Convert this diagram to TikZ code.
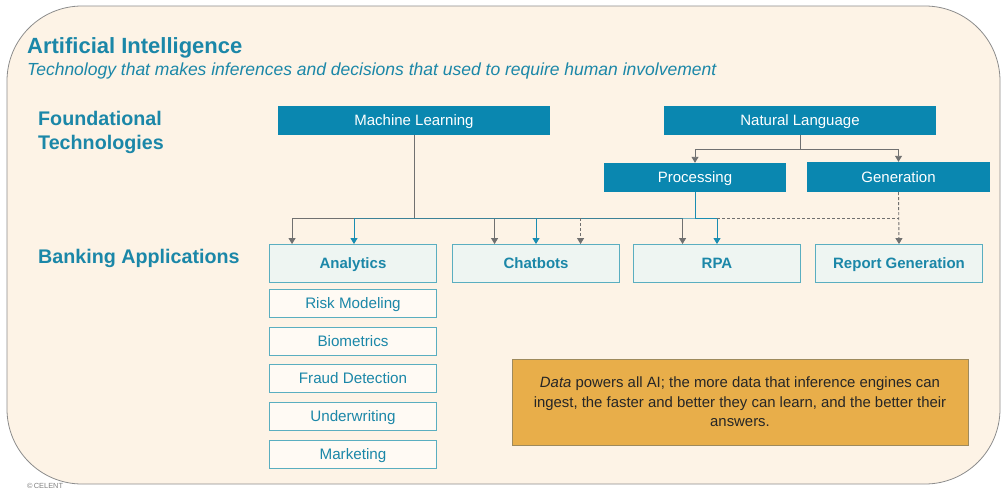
\documentclass[tikz,border=0pt]{standalone}
\usepackage{fontspec}
\setmainfont{Liberation Sans}
\usetikzlibrary{arrows.meta,calc}
\definecolor{cream}{HTML}{FDF3E6}
\definecolor{framegray}{HTML}{8C8C8C}
\definecolor{aiblue}{HTML}{0A87B0}
\definecolor{headtxt}{HTML}{1B87A8}
\definecolor{appfill}{HTML}{EEF5F2}
\definecolor{appline}{HTML}{5AAEC0}
\definecolor{subfill}{HTML}{FFFAF4}
\definecolor{gline}{HTML}{707070}
\definecolor{tline}{HTML}{1A8DB2}
\definecolor{gold}{HTML}{E8AE4A}
\definecolor{goldline}{HTML}{9E8A5C}
\begin{document}
\begin{tikzpicture}[x=1pt,y=-1pt,
  tech/.style={fill=aiblue, text=white, minimum height=29pt, inner sep=0pt,
    text height=10.7pt, text depth=0pt, font=\fontsize{15}{17}\selectfont},
  app/.style={draw=appline, line width=0.9pt, fill=appfill, text=headtxt,
    minimum width=167pt, minimum height=38pt, inner sep=0pt,
    text height=10.7pt, text depth=0pt, font=\bfseries\fontsize{15}{17}\selectfont},
  subapp/.style={draw=appline, line width=0.9pt, fill=subfill, text=headtxt,
    minimum width=167pt, minimum height=28pt, inner sep=0pt,
    text height=10.9pt, text depth=0pt, font=\fontsize{15.2}{17}\selectfont},
  heading/.style={anchor=base west, inner sep=0pt, text=headtxt, align=left,
    font=\bfseries\fontsize{19.7}{24}\selectfont},
  gl/.style={draw=gline, line width=0.9pt},
  tl/.style={draw=tline, line width=0.9pt},
  dl/.style={draw=gline, line width=0.9pt, dash pattern=on 3pt off 2pt},
  tip/.style={-{Triangle[width=7pt,length=6pt]}}
]
\path[use as bounding box] (0,0) rectangle (1002,491);

% panel
\filldraw[fill=cream, draw=framegray, line width=0.8pt, rounded corners=75pt]
  (7,6) rectangle (1000,484);

% titles
\node[anchor=base west, inner sep=0pt, text=headtxt,
  font=\bfseries\fontsize{22}{26}\selectfont] (title) at (27,53) {Artificial Intelligence};
\node[anchor=base west, inner sep=0pt, text=headtxt,
  font=\itshape\fontsize{17.5}{20}\selectfont] (subtitle) at (27,75)
  {Technology that makes inferences and decisions that used to require human involvement};
\node[heading] (found) at (38,149) {Foundational\\Technologies};
\node[heading] (bank) at (38,263) {Banking Applications};

% foundational technologies
\node[tech, minimum width=272pt] (ml) at (414,120.5) {Machine Learning};
\node[tech, minimum width=272pt] (nl) at (800,120.5) {Natural Language};
\node[tech, minimum width=182pt] (pr) at (695,177.5) {Processing};
\node[tech, minimum width=183pt, minimum height=30pt] (gen) at (898.5,177) {Generation};

% banking applications
\node[app] (an) at (353,263.5) {Analytics};
\node[app] (cb) at (536,263.5) {Chatbots};
\node[app] (rpa) at (717,263.5) {RPA};
\node[app] (rg) at (899,263.5) {Report Generation};

\node[subapp] (risk) at (353,303) {Risk Modeling};
\node[subapp] (bio) at (353,341) {Biometrics};
\node[subapp] (fraud) at (353,378.5) {Fraud Detection};
\node[subapp] (under) at (353,416.5) {Underwriting};
\node[subapp] (mkt) at (353,454.5) {Marketing};

% data note
\node[draw=goldline, line width=0.8pt, fill=gold, minimum width=456pt, minimum height=86pt,
  align=center, text=black!85, font=\fontsize{14.9}{19.5}\selectfont] (data) at (740,402)
  {\textit{Data} powers all AI; the more data that inference engines can\\
   ingest, the faster and better they can learn, and the better their\\
   answers.};

\node[anchor=base west, inner sep=0pt, text=gray, font=\fontsize{7.4}{8}\selectfont]
  (copy) at (27,488) {\textcopyright\,CELENT};

% connector anchors
\coordinate (bus) at (0,218);
\coordinate (nlj) at (0,149);
\coordinate (a1) at ($(an.north west)+(23,0)$);
\coordinate (a2) at ($(an.north)+(1,0)$);
\coordinate (c1) at ($(cb.north west)+(42.5,0)$);
\coordinate (c2) at (cb.north);
\coordinate (c3) at ($(cb.north west)+(128.5,0)$);
\coordinate (r1) at ($(rpa.north west)+(49.5,0)$);
\coordinate (r2) at (rpa.north);
\coordinate (g1) at (rg.north);

% natural language split
\draw[gl] (nl.south) -- (nl.south |- nlj);
\draw[gl] (pr.north |- nlj) -- (gen.north |- nlj);
\draw[gl,tip] (pr.north |- nlj) -- (pr.north);
\draw[gl,tip] (gen.north |- nlj) -- (gen.north);

% machine learning feeds
\draw[gl] (ml.south) -- (ml.south |- bus);
\draw[gl] (bus -| a1) -- (bus -| r1);
\draw[gl,tip] (bus -| a1) -- (a1);
\draw[gl,tip] (bus -| c1) -- (c1);
\draw[gl,tip] (bus -| r1) -- (r1);

% processing feeds
\draw[tl] (pr.south) -- (pr.south |- bus);
\draw[tl, opacity=0.6] (bus -| a2) -- (bus -| pr.south);
\draw[tl] (bus -| pr.south) -- (bus -| r2);
\draw[tl,tip] (bus -| a2) -- (a2);
\draw[tl,tip] (bus -| c2) -- (c2);
\draw[tl,tip] (bus -| r2) -- (r2);

% generation feeds
\draw[dl] (bus -| r2) -- (bus -| g1);
\draw[dl,tip] (gen.south) -- (g1);
\draw[dl,tip] (bus -| c3) -- (c3);
\end{tikzpicture}
\end{document}
